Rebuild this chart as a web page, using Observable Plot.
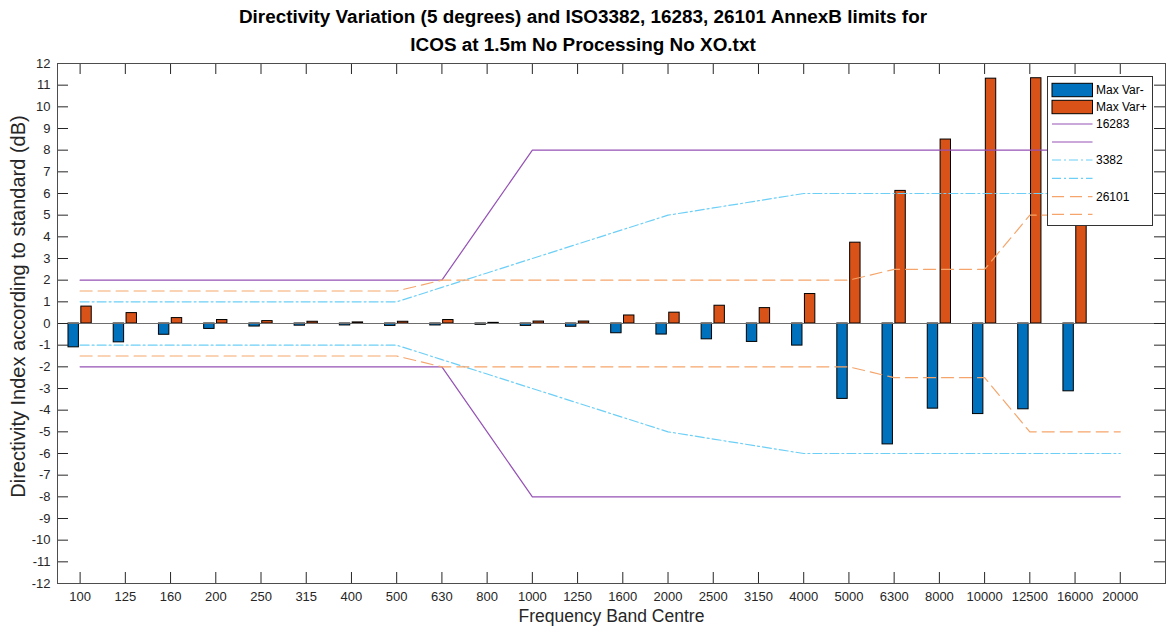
<!DOCTYPE html>
<html><head><meta charset="utf-8">
<script src="https://cdn.jsdelivr.net/npm/d3@7"></script>
<script src="https://cdn.jsdelivr.net/npm/@observablehq/plot@0.6"></script>
<style>
body{margin:0;background:#fff;font-family:"Liberation Sans",Arial,sans-serif;}
#wrap{position:relative;width:1166px;height:632px;overflow:hidden;}
#chart{position:absolute;left:0;top:0;}
#title{position:absolute;left:0;top:3px;width:1166px;text-align:center;font-weight:bold;font-size:18.9px;line-height:28px;color:#000;}
#legend{position:absolute;left:1046px;top:75px;}
</style></head><body>
<div id="wrap"><div id="chart"></div><div id="title">Directivity Variation (5 degrees) and ISO3382, 16283, 26101 AnnexB limits for<br>ICOS at 1.5m No Processing No XO.txt</div><div id="legend"></div></div>
<script>
const bands = ["100","125","160","200","250","315","400","500","630","800","1000","1250","1600","2000","2500","3150","4000","5000","6300","8000","10000","12500","16000","20000"];
const maxVarMinus = [-1.1,-0.87,-0.52,-0.25,-0.14,-0.1,-0.09,-0.11,-0.09,-0.06,-0.11,-0.15,-0.45,-0.51,-0.73,-0.85,-1.02,-3.48,-5.58,-3.93,-4.18,-3.96,-3.13,null];
const maxVarPlus = [0.78,0.48,0.25,0.16,0.11,0.08,0.05,0.08,0.16,0.03,0.09,0.09,0.37,0.5,0.82,0.71,1.36,3.73,6.12,8.49,11.3,11.32,9.0,null];
const limit16283 = [2,2,2,2,2,2,2,2,2,5,8,8,8,8,8,8,8,8,8,8,8,8,8,8];
const limit3382 = [1,1,1,1,1,1,1,1,1.667,2.333,3,3.667,4.333,5,5.333,5.667,6,6,6,6,6,6,6,6];
const limit26101 = [1.5,1.5,1.5,1.5,1.5,1.5,1.5,1.5,2,2,2,2,2,2,2,2,2,2,2.5,2.5,2.5,5,5,5];
const yTicks = d3.range(-12, 13);

const rows = bands.map((b, k) => ({i: k + 1, band: b, minus: maxVarMinus[k], plus: maxVarPlus[k],
  l16283: limit16283[k], l3382: limit3382[k], l26101: limit26101[k]}));
const idx = rows.map(d => d.i);
const barRows = rows.filter(d => d.minus != null);

const W = 1166, H = 632, mL = 57, mR = 1, mT = 63, mB = 49;
const fw = W - mL - mR, fh = H - mT - mB, tl = 11;
const off = 0.142, bw = 0.23;
const C = {blue:"#0072BD", orange:"#D95319", purple:"#9552b5", cyan:"#6dcff6", dash:"#f5a56b"};
const dashDot = "9,3,2,3", dashed = "12,6";

const chart = Plot.plot({
  width: W, height: H, marginLeft: mL, marginRight: mR, marginTop: mT, marginBottom: mB,
  style: {fontFamily: "Liberation Sans, Arial, sans-serif", fontSize: "13px", color: "#262626", background: "#fff"},
  x: {type: "linear", domain: [0.5, 25], axis: null},
  y: {domain: [-12, 12], axis: null},
  marks: [
    Plot.rect(barRows, {x1: d => d.i - off - bw/2, x2: d => d.i - off + bw/2, y1: 0, y2: "minus", fill: C.blue, stroke: "#000", strokeWidth: 1}),
    Plot.rect(barRows, {x1: d => d.i + off - bw/2, x2: d => d.i + off + bw/2, y1: 0, y2: "plus", fill: C.orange, stroke: "#000", strokeWidth: 1}),
    Plot.ruleY([0], {stroke: "#6e6e6e", strokeWidth: 1.2}),
    Plot.line(rows, {x: "i", y: "l16283", stroke: C.purple, strokeWidth: 1.2}),
    Plot.line(rows, {x: "i", y: d => -d.l16283, stroke: C.purple, strokeWidth: 1.2}),
    Plot.line(rows, {x: "i", y: "l3382", stroke: C.cyan, strokeWidth: 1.2, strokeDasharray: dashDot}),
    Plot.line(rows, {x: "i", y: d => -d.l3382, stroke: C.cyan, strokeWidth: 1.2, strokeDasharray: dashDot}),
    Plot.line(rows, {x: "i", y: "l26101", stroke: C.dash, strokeWidth: 1.2, strokeDasharray: dashed}),
    Plot.line(rows, {x: "i", y: d => -d.l26101, stroke: C.dash, strokeWidth: 1.2, strokeDasharray: dashed}),
    Plot.tickX(idx, {x: d => d, insetTop: fh - tl, stroke: "#262626"}),
    Plot.tickX(idx, {x: d => d, insetBottom: fh - tl, stroke: "#262626"}),
    Plot.tickY(yTicks, {y: d => d, insetRight: fw - tl, stroke: "#262626"}),
    Plot.tickY(yTicks, {y: d => d, insetLeft: fw - tl, stroke: "#262626"}),
    Plot.frame({stroke: "#4d4d4d"}),
    Plot.axisX(idx, {tickSize: 0, tickPadding: 8, tickFormat: i => bands[i - 1], fontSize: 13, fill: "#262626", label: null}),
    Plot.axisY(yTicks, {tickSize: 0, tickPadding: 7, tickFormat: d => String(d), fontSize: 13, fill: "#262626", label: null}),
    Plot.text(["Frequency Band Centre"], {frameAnchor: "bottom", dy: 38, fontSize: 17.5, fill: "#262626"}),
    Plot.text(["Directivity Index according to standard (dB)"], {frameAnchor: "left", textAnchor: "middle", dx: -39, dy: -17, rotate: -90, fontSize: 20, fill: "#262626"})
  ]
});
document.getElementById("chart").appendChild(chart);

// legend
const legendItems = [
  {type: "rect", color: C.blue, label: "Max Var-"},
  {type: "rect", color: C.orange, label: "Max Var+"},
  {type: "line", color: C.purple, dash: null, label: "16283"},
  {type: "line", color: C.purple, dash: null, label: ""},
  {type: "line", color: C.cyan, dash: dashDot, label: "3382"},
  {type: "line", color: C.cyan, dash: dashDot, label: ""},
  {type: "line", color: C.dash, dash: dashed, label: "26101"},
  {type: "line", color: C.dash, dash: dashed, label: ""}
];
const rowY = [15, 32, 49, 67, 85, 103.3, 121.7, 139.3];
const lg = d3.select("#legend").append("svg").attr("width", 108).attr("height", 152)
  .style("font-family", "Liberation Sans, Arial, sans-serif").style("font-size", "12px");
lg.append("rect").attr("x", 1.5).attr("y", 1.5).attr("width", 105).attr("height", 149).attr("fill", "#fff").attr("stroke", "#333");
legendItems.forEach((it, k) => {
  const y = rowY[k];
  if (it.type === "rect") {
    lg.append("rect").attr("x", 6).attr("y", y - 6.7).attr("width", 40.5).attr("height", 13.4).attr("fill", it.color).attr("stroke", "#000");
  } else {
    lg.append("line").attr("x1", 6).attr("x2", 46.5).attr("y1", y).attr("y2", y).attr("stroke", it.color).attr("stroke-width", 1.2)
      .attr("stroke-dasharray", it.dash);
  }
  if (it.label) lg.append("text").attr("x", 50).attr("y", y).attr("dy", "0.35em").attr("fill", "#000").text(it.label);
});
</script>
</body></html>
